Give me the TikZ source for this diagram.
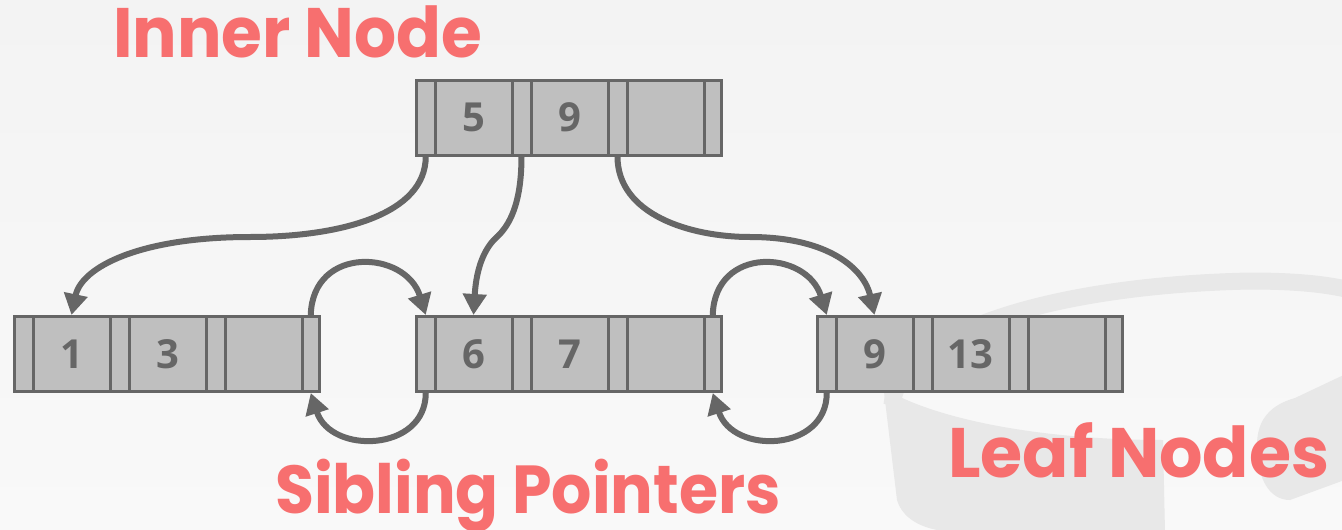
\documentclass[tikz,border=0pt]{standalone}
\usepackage{fontspec}
\usetikzlibrary{arrows.meta}
\newfontfamily\titlefont{Poppins}
\newfontfamily\keyfont{Open Sans}
\definecolor{linec}{HTML}{666666}
\definecolor{cellc}{HTML}{BFBFBF}
\definecolor{titlec}{HTML}{F76F6F}
\definecolor{wmc}{HTML}{E8E8E8}
\definecolor{bgtop}{HTML}{F3F3F3}
\definecolor{bgbot}{HTML}{F9F9F9}
\tikzset{
  cell/.style={draw=linec, fill=cellc, line width=3pt, inner sep=0pt,
    minimum height=75pt, text=linec,
    font=\keyfont\bfseries\fontsize{40}{40}\selectfont},
  link/.style={draw=linec, line width=6pt,
    -{Triangle[length=21pt,width=23pt]}},
  title/.style={text=titlec, inner sep=0pt, anchor=base west,
    font=\titlefont\bfseries\fontsize{70}{70}\selectfont},
}
% one B+ tree node: #1 name, #2 left edge, #3 centre line, #4-#6 keys
\newcommand\bptnode[6]{%
  \node[cell, minimum width=18.5pt] (#1-p1) at (#2+10.75,#3) {};
  \node[cell, minimum width=77pt]   (#1-k1) at (#2+58.5,#3)  {\raisebox{-2.5pt}{#4}};
  \node[cell, minimum width=19pt]   (#1-p2) at (#2+106.5,#3) {};
  \node[cell, minimum width=77pt]   (#1-k2) at (#2+154.5,#3) {\raisebox{-2.5pt}{#5}};
  \node[cell, minimum width=19pt]   (#1-p3) at (#2+202.5,#3) {};
  \node[cell, minimum width=77pt]   (#1-k3) at (#2+250.5,#3) {\raisebox{-2.5pt}{#6}};
  \node[cell, minimum width=17.5pt] (#1-p4) at (#2+297.75,#3) {};
}
\begin{document}
\begin{tikzpicture}[x=1pt, y=-1pt]
\useasboundingbox (0,0) rectangle (1342,530);
% background
\shade[top color=bgtop, bottom color=bgbot] (0,0) rectangle (1342,530);
% faint database emblem
\fill[wmc] (884,392) -- (897,500) .. controls (903,520) and (925,532) .. (960,532)
  -- (1165,532) -- (1163,440) .. controls (1060,440) and (960,425) .. (900,397) -- cycle;
\draw[wmc, line width=17pt] (892,405) .. controls (900,330) and (1060,285) .. (1250,281)
  .. controls (1300,281) and (1330,285) .. (1350,290);
\fill[wmc] (1257,445) .. controls (1257,420) and (1270,405) .. (1295,398) -- (1350,372)
  -- (1350,478) -- (1290,500) .. controls (1270,500) and (1257,480) .. cycle;

% nodes
\bptnode{in}{415}{117.5}{5}{9}{}
\bptnode{la}{13}{354}{1}{3}{}
\bptnode{lb}{415}{354}{6}{7}{}
\bptnode{lc}{816}{354}{9}{13}{}

% child pointers
\draw[link] (in-p1.south) .. controls +(0,58) and +(90,0) .. (250,237)
  .. controls +(-110,0) and +(10,-48) .. (la-k1.north);
\draw[link] (in-p2.south) .. controls +(0,50) and +(10,-10) .. (498,236)
  .. controls +(-12,10) and +(3,-50) .. (lb-k1.north);
\draw[link] (in-p3.south) .. controls +(0,58) and +(-60,0) .. (750,237)
  .. controls +(80,0) and +(-10,-45) .. (lc-k1.north);

% sibling pointers
\draw[link] (la-p4.north) .. controls +(2,-70) and +(-20,-65) .. (lb-p1.north);
\draw[link] (lb-p1.south) .. controls +(0,59) and +(20,62) .. (la-p4.south);
\draw[link] (lb-p4.north) .. controls +(2,-70) and +(-20,-65) .. (lc-p1.north);
\draw[link] (lc-p1.south) .. controls +(0,59) and +(20,62) .. (lb-p4.south);

% labels
\node[title] (t-inner) at (113,57) {\scalebox{0.945}[1]{Inner Node}};
\node[title] (t-sib) at (275,513) {\scalebox{0.905}[0.97]{Sibling Pointers}};
\node[title] (t-leaf) at (948,477) {\scalebox{0.975}[1]{Leaf Nodes}};
\end{tikzpicture}
\end{document}
